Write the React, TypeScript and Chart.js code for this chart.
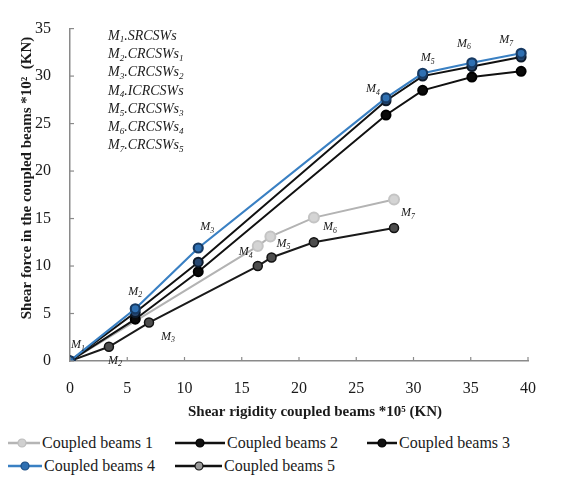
import React, { useEffect, useRef } from "react";
import { Chart, registerables } from "chart.js";

Chart.register(...registerables);

// ---------- data ----------
const xTop = [0, 5.7, 11.2, 27.6, 30.8, 35.1, 39.4];
const beams4 = [0, 5.5, 11.9, 27.7, 30.3, 31.4, 32.4];
const beams2 = [0, 5.1, 10.4, 27.4, 30.0, 31.0, 32.0];
const beams3 = [0, 4.4, 9.4, 25.9, 28.5, 29.9, 30.5];
const xLow = [0, 3.4, 6.9, 16.4, 17.6, 21.3, 28.3];
const beams5 = [0, 1.5, 4.05, 10.0, 10.9, 12.5, 14.0];
const x1 = [0, 16.4, 17.5, 21.3, 28.3];
const beams1 = [0, 12.1, 13.1, 15.1, 17.0];

const xTicks = [0, 5, 10, 15, 20, 25, 30, 35, 40];
const yTicks = [0, 5, 10, 15, 20, 25, 30, 35];

const seriesNames = ["Coupled beams 1", "Coupled beams 2", "Coupled beams 3", "Coupled beams 4", "Coupled beams 5"];
const xTitle = "Shear rigidity coupled beams *10\u2075 (KN)";
const yTitle = "Shear force in the coupled beams *10\u00B2  (KN)";

const modelLines: { m: string; name: string; sub?: string }[] = [
  { m: "1", name: "SRCSWs" },
  { m: "2", name: "CRCSWs", sub: "1" },
  { m: "3", name: "CRCSWs", sub: "2" },
  { m: "4", name: "ICRCSWs" },
  { m: "5", name: "CRCSWs", sub: "3" },
  { m: "6", name: "CRCSWs", sub: "4" },
  { m: "7", name: "CRCSWs", sub: "5" },
];

// point labels: dataset index, point index, label digit, pixel offset
const pointLabels = [
  { ds: 0, pt: 0, n: "1", dx: 8, dy: -16 },
  { ds: 0, pt: 1, n: "2", dx: 0, dy: -17 },
  { ds: 0, pt: 2, n: "3", dx: 9, dy: -21 },
  { ds: 0, pt: 3, n: "4", dx: -13, dy: -9 },
  { ds: 0, pt: 4, n: "5", dx: 5, dy: -15 },
  { ds: 0, pt: 5, n: "6", dx: -8, dy: -19 },
  { ds: 0, pt: 6, n: "7", dx: -15, dy: -13 },
  { ds: 3, pt: 1, n: "2", dx: 6, dy: 14 },
  { ds: 3, pt: 2, n: "3", dx: 19, dy: 14 },
  { ds: 3, pt: 3, n: "4", dx: -12, dy: -14 },
  { ds: 3, pt: 4, n: "5", dx: 12, dy: -14 },
  { ds: 3, pt: 5, n: "6", dx: 16, dy: -15 },
  { ds: 3, pt: 6, n: "7", dx: 14, dy: -15 },
];

const SERIF = '"Liberation Serif", Tinos, "Times New Roman", Times, "Noto Serif", "DejaVu Serif", serif';

function pts(xs: number[], ys: number[]) {
  return xs.map((x, i) => ({ x, y: ys[i] }));
}

function drawMLabel(ctx: CanvasRenderingContext2D, n: string, cx: number, cy: number, size: number) {
  ctx.font = `italic ${size}px ${SERIF}`;
  const w1 = ctx.measureText("M").width;
  ctx.font = `italic ${size * 0.65}px ${SERIF}`;
  const w2 = ctx.measureText(n).width;
  const x0 = cx - (w1 + w2) / 2;
  ctx.textBaseline = "middle";
  ctx.textAlign = "left";
  ctx.font = `italic ${size}px ${SERIF}`;
  ctx.fillText("M", x0, cy);
  ctx.font = `italic ${size * 0.65}px ${SERIF}`;
  ctx.fillText(n, x0 + w1, cy + size * 0.3);
}

const overlayPlugin = {
  id: "overlay",
  afterDraw(chart: any) {
    const ctx = chart.ctx as CanvasRenderingContext2D;
    const xs = chart.scales.x;
    const ys = chart.scales.y;
    const area = chart.chartArea;
    ctx.save();
    // inward tick marks
    ctx.strokeStyle = "#8a8a8a";
    ctx.lineWidth = 1.2;
    xTicks.forEach((v) => {
      const px = xs.getPixelForValue(v);
      ctx.beginPath();
      ctx.moveTo(px, area.bottom);
      ctx.lineTo(px, area.bottom - 4);
      ctx.stroke();
    });
    yTicks.forEach((v) => {
      const py = ys.getPixelForValue(v);
      ctx.beginPath();
      ctx.moveTo(area.left, py);
      ctx.lineTo(area.left + 4, py);
      ctx.stroke();
    });

    ctx.fillStyle = "#1a1a1a";
    // axis titles
    ctx.font = `bold 15px ${SERIF}`;
    ctx.textAlign = "center";
    ctx.textBaseline = "middle";
    ctx.fillText(xTitle, 307, 404);
    ctx.save();
    ctx.translate(19, 170);
    ctx.rotate(-Math.PI / 2);
    ctx.fillText(yTitle, 0, 0);
    ctx.restore();

    // model list block
    const size = 14;
    modelLines.forEach((l, i) => {
      const y = 28 + i * 18.3;
      let x = 100;
      ctx.textAlign = "left";
      ctx.textBaseline = "middle";
      ctx.font = `italic ${size}px ${SERIF}`;
      ctx.fillText("M", x, y);
      x += ctx.measureText("M").width;
      ctx.font = `italic ${size * 0.65}px ${SERIF}`;
      ctx.fillText(l.m, x, y + 4);
      x += ctx.measureText(l.m).width;
      ctx.font = `italic ${size}px ${SERIF}`;
      const t = "." + l.name;
      ctx.fillText(t, x, y);
      x += ctx.measureText(t).width;
      if (l.sub) {
        ctx.font = `italic ${size * 0.65}px ${SERIF}`;
        ctx.fillText(l.sub, x, y + 4);
      }
    });

    // point labels
    pointLabels.forEach((p) => {
      const el = chart.getDatasetMeta(p.ds).data[p.pt];
      if (!el) return;
      drawMLabel(ctx, p.n, el.x + p.dx, el.y + p.dy, 12);
    });
    ctx.restore();
  },
};

function LegendMark({ color, fill, border, width, cx }: { color: string; fill: string; border: string; width: number; cx: number }) {
  return (
    <svg width={width} height={12} style={{ display: "block" }}>
      <line x1={0} y1={6} x2={width} y2={6} stroke={color} strokeWidth={2.5} />
      <circle cx={cx} cy={6} r={4} fill={fill} stroke={border} strokeWidth={1.2} />
    </svg>
  );
}

export default function App() {
  const ref = useRef<HTMLCanvasElement | null>(null);

  useEffect(() => {
    if (!ref.current) return;
    const chart = new Chart(ref.current, {
      type: "line",
      data: {
        datasets: [
          {
            label: seriesNames[3],
            data: pts(xTop, beams4),
            borderColor: "#3a80c3",
            backgroundColor: "#2e6fb0",
            pointBackgroundColor: "#2f70b2",
            pointBorderColor: "#173a63",
            borderWidth: 2.2,
            pointRadius: 4.5,
            order: 1,
          },
          {
            label: seriesNames[1],
            data: pts(xTop, beams2),
            borderColor: "#111111",
            pointBackgroundColor: "#27476f",
            pointBorderColor: "#0d1a2a",
            borderWidth: 2,
            pointRadius: 4.5,
            order: 2,
          },
          {
            label: seriesNames[2],
            data: pts(xTop, beams3),
            borderColor: "#111111",
            pointBackgroundColor: "#0a0a0a",
            pointBorderColor: "#000000",
            borderWidth: 2,
            pointRadius: 4.5,
            order: 3,
          },
          {
            label: seriesNames[4],
            data: pts(xLow, beams5),
            borderColor: "#1a1a1a",
            pointBackgroundColor: "#4d4d4d",
            pointBorderColor: "#111111",
            borderWidth: 2,
            pointRadius: 4.5,
            pointBorderWidth: 1.5,
            order: 4,
          },
          {
            label: seriesNames[0],
            data: pts(x1, beams1),
            borderColor: "#b3b3b3",
            pointBackgroundColor: "#d4d4d4",
            pointBorderColor: "#c4c4c4",
            borderWidth: 2,
            pointRadius: 5,
            order: 5,
          },
        ],
      },
      options: {
        animation: false,
        responsive: false,
        maintainAspectRatio: false,
        font: { family: SERIF },
        layout: { padding: { top: 8, right: 27, left: 0, bottom: 0 } },
        plugins: { legend: { display: false }, tooltip: { enabled: false } },
        scales: {
          x: {
            type: "linear",
            min: 0,
            max: 40,
            grid: { display: false },
            border: { display: true, color: "#8a8a8a", width: 1.5 },
            ticks: {
              stepSize: 5,
              padding: 10,
              color: "#1a1a1a",
              font: { family: SERIF, size: 16 },
            },
            afterFit(scale: any) {
              scale.height = 67;
            },
          },
          y: {
            type: "linear",
            min: 0,
            max: 35,
            grid: { display: false },
            border: { display: true, color: "#8a8a8a", width: 1.5 },
            ticks: {
              stepSize: 5,
              padding: 11,
              color: "#1a1a1a",
              font: { family: SERIF, size: 16 },
            },
            afterFit(scale: any) {
              scale.width = 62;
            },
          },
        },
      },
      plugins: [overlayPlugin],
    } as any);
    let alive = true;
    const fonts: any = (document as any).fonts;
    if (fonts && fonts.ready) {
      fonts.ready
        .then(() => {
          if (alive) chart.update("none");
        })
        .catch(() => {});
    }
    return () => {
      alive = false;
      chart.destroy();
    };
  }, []);

  const textStyle: React.CSSProperties = {
    fontFamily: SERIF,
    fontSize: 16,
    color: "#1a1a1a",
    whiteSpace: "nowrap",
    lineHeight: "18px",
  };
  const item = (left: number, top: number, mark: React.ReactNode, text: string) => (
    <div style={{ position: "absolute", left, top, display: "flex", alignItems: "center" }}>
      {mark}
      <span style={{ ...textStyle, marginLeft: 2 }}>{text}</span>
    </div>
  );

  return (
    <div style={{ position: "relative", width: 547, height: 469, fontFamily: SERIF }}>
      <canvas ref={ref} width={547} height={420} style={{ display: "block" }} />
      {item(-3, 426, <LegendMark color="#b5b5b5" fill="#d0d0d0" border="#bdbdbd" width={35} cx={17} />, seriesNames[0])}
      {item(167, 426, <LegendMark color="#111" fill="#111" border="#000" width={50} cx={25} />, seriesNames[1])}
      {item(359, 426, <LegendMark color="#111" fill="#111" border="#000" width={30} cx={15} />, seriesNames[2])}
      {item(-3, 449, <LegendMark color="#3a80c3" fill="#2f70b2" border="#1d4f85" width={37} cx={20} />, seriesNames[3])}
      {item(167, 449, <LegendMark color="#111" fill="#9a9a9a" border="#111" width={47} cx={24} />, seriesNames[4])}
    </div>
  );
}
